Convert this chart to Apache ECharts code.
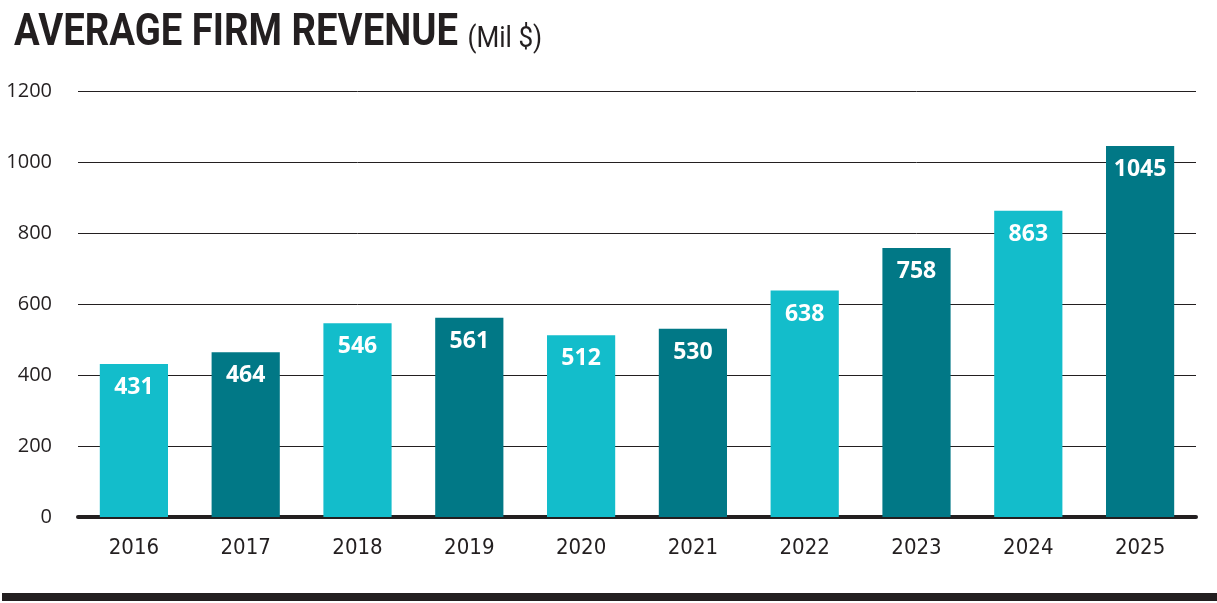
<!DOCTYPE html>
<html>
<head>
<meta charset="utf-8">
<script src="https://cdn.jsdelivr.net/npm/echarts@6/dist/echarts.min.js"></script>
<style>
  html, body { margin: 0; padding: 0; background: #fff; }
  #chart { width: 1217px; height: 603px; }
</style>
</head>
<body>
<div id="chart"></div>
<script>
// data
var years = ['2016', '2017', '2018', '2019', '2020', '2021', '2022', '2023', '2024', '2025'];
var revenue = [431, 464, 546, 561, 512, 530, 638, 758, 863, 1045];
var yTicks = [0, 200, 400, 600, 800, 1000, 1200];

var light = '#13bdcb';
var dark = '#017886';
var ink = '#231f20';
var narrow = '"DejaVu Sans Condensed", "Liberation Sans Narrow", sans-serif';

var chart = echarts.init(document.getElementById('chart'));
chart.setOption({
  animation: false,
  graphic: [{
    type: 'text',
    left: 14,
    top: 12,
    scaleX: 0.87,
    style: {
      text: '{a|AVERAGE FIRM REVENUE}{b|(Mil $)}',
      rich: {
        a: { fontFamily: 'Roboto', fontWeight: 'bold', fontSize: 44, fill: ink, padding: [0, 11, 0, 0] },
        b: { fontFamily: 'Roboto', fontSize: 30, fill: ink, padding: [10, 0, 0, 0] }
      }
    }
  }, {
    type: 'rect',
    shape: { x: 2, y: 593, width: 1215, height: 8 },
    style: { fill: ink }
  }],
  grid: { left: 78, right: 21, top: 91, bottom: 86 },
  xAxis: {
    type: 'category',
    data: years,
    axisLine: { lineStyle: { color: ink, width: 4 } },
    axisTick: { show: false },
    axisLabel: {
      margin: 20,
      fontFamily: narrow,
      fontSize: 22,
      color: ink
    }
  },
  yAxis: {
    type: 'value',
    min: yTicks[0],
    max: yTicks[yTicks.length - 1],
    interval: 200,
    axisLine: { show: false },
    axisTick: { show: false },
    splitLine: { lineStyle: { color: ink, width: 1 } },
    axisLabel: {
      margin: 26,
      fontFamily: 'Open Sans',
      fontSize: 20,
      color: ink,
      formatter: function (v) { return String(v); }
    }
  },
  series: [{
    type: 'bar',
    barWidth: '61%',
    data: revenue.map(function (v, i) {
      return { value: v, itemStyle: { color: i % 2 === 0 ? light : dark } };
    }),
    label: {
      show: true,
      position: 'insideTop',
      distance: 12,
      color: '#fff',
      fontFamily: 'Open Sans',
      fontWeight: 'bold',
      fontSize: 23
    }
  }]
});
</script>
</body>
</html>
